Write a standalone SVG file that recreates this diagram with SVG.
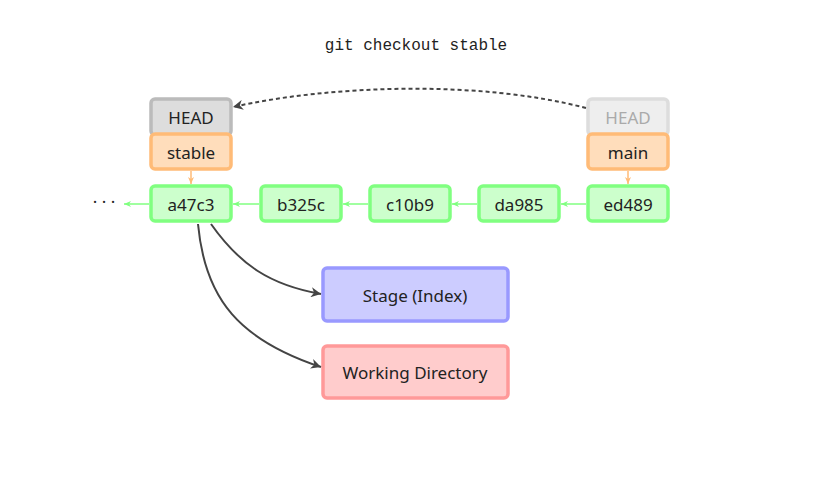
<svg xmlns="http://www.w3.org/2000/svg" width="831" height="485" viewBox="0 0 831 485">
<style>
text{font-family:"Noto Sans","Liberation Sans",sans-serif;font-size:17px;text-anchor:middle;dominant-baseline:central;fill:#222}
.c rect{fill:#ccffcc;stroke:#80ff80;stroke-width:3.5}
.g line{stroke:#80ff80;stroke-width:1.5}
</style>
<defs>
<marker id="ag" markerWidth="8" markerHeight="8" refX="7" refY="4" orient="auto" markerUnits="userSpaceOnUse"><path d="M0,1 L7,4 L0,7 L2,4z" fill="#80ff80"/></marker>
<marker id="ao" markerWidth="8" markerHeight="8" refX="7" refY="4" orient="auto" markerUnits="userSpaceOnUse"><path d="M0,1 L7,4 L0,7 L2,4z" fill="#ffbb77"/></marker>
<marker id="ad" markerWidth="12" markerHeight="10" refX="10" refY="5" orient="auto" markerUnits="userSpaceOnUse"><path d="M0,0 L10,5 L0,10 L3,5z" fill="#444"/></marker>
</defs>
<rect width="831" height="485" fill="#fff"/>
<text x="416" y="46" style="font-family:'Liberation Mono',monospace;font-size:16px">git checkout stable</text>
<g id="head"><rect x="151" y="99" width="80" height="36" rx="4" fill="#dddddd" stroke="#bbbbbb" stroke-width="3.5"/><text x="191" y="117">HEAD</text></g>
<g id="head2"><rect x="588" y="99" width="80" height="36" rx="4" fill="#eeeeee" stroke="#dddddd" stroke-width="3.5"/><text x="628" y="117" style="fill:#aaaaaa">HEAD</text></g>
<g id="stable"><rect x="151" y="134" width="80" height="35" rx="4" fill="#ffddbb" stroke="#ffbb77" stroke-width="3.5"/><text x="191" y="152">stable</text></g>
<g id="main"><rect x="588" y="134" width="80" height="35" rx="4" fill="#ffddbb" stroke="#ffbb77" stroke-width="3.5"/><text x="628" y="152">main</text></g>
<g id="a47c3" class="c"><rect x="151" y="186" width="80" height="35" rx="4"/><text x="191" y="204">a47c3</text></g>
<g id="b325c" class="c"><rect x="261" y="186" width="80" height="35" rx="4"/><text x="301" y="204">b325c</text></g>
<g id="c10b9" class="c"><rect x="370" y="186" width="80" height="35" rx="4"/><text x="410" y="204">c10b9</text></g>
<g id="da985" class="c"><rect x="479" y="186" width="80" height="35" rx="4"/><text x="519" y="204">da985</text></g>
<g id="ed489" class="c"><rect x="588" y="186" width="80" height="35" rx="4"/><text x="628" y="204">ed489</text></g>
<g id="dots"><text x="104" y="201">· · ·</text></g>
<g id="stage"><rect x="323" y="268" width="185" height="53" rx="4" fill="#ccccff" stroke="#9999ff" stroke-width="3.5"/><text x="415" y="295">Stage (Index)</text></g>
<g id="wd"><rect x="323" y="346" width="185" height="52" rx="4" fill="#ffcccc" stroke="#ff9999" stroke-width="3.5"/><text x="415" y="372">Working Directory</text></g>
<g id="connectors">
<g class="g">
<line x1="149" y1="204" x2="124" y2="204" marker-end="url(#ag)"/>
<line x1="259" y1="204" x2="233" y2="204" marker-end="url(#ag)"/>
<line x1="368" y1="204" x2="343" y2="204" marker-end="url(#ag)"/>
<line x1="477" y1="204" x2="452" y2="204" marker-end="url(#ag)"/>
<line x1="586" y1="204" x2="561" y2="204" marker-end="url(#ag)"/>
</g>
<line x1="191" y1="171" x2="191" y2="184" stroke="#ffbb77" stroke-width="1.5" marker-end="url(#ao)"/>
<line x1="628" y1="171" x2="628" y2="184" stroke="#ffbb77" stroke-width="1.5" marker-end="url(#ao)"/>
<path d="M586,108 C480,80 330,85 233,107" fill="none" stroke="#444" stroke-width="2" stroke-dasharray="4,3" marker-end="url(#ad)"/>
<path d="M211,224 C240,265 270,285 321,294" fill="none" stroke="#444" stroke-width="2" marker-end="url(#ad)"/>
<path d="M198,224 C205,300 240,340 321,367" fill="none" stroke="#444" stroke-width="2" marker-end="url(#ad)"/>
</g>
</svg>
